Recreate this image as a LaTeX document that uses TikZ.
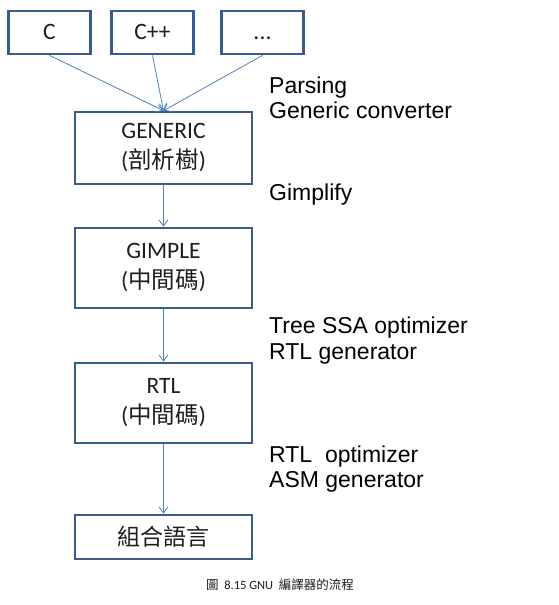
\documentclass[tikz,border=0pt]{standalone}
\usepackage{fontspec}
\setmainfont{Carlito}
\newfontfamily\cjk{Noto Sans CJK TC}
\newfontfamily\arialf{Liberation Sans}
\usetikzlibrary{arrows.meta}
\definecolor{boxblue}{RGB}{56,93,138}
\definecolor{arrowblue}{RGB}{79,129,189}
\definecolor{txtgray}{RGB}{30,30,30}
\begin{document}
\begin{tikzpicture}[x=1pt,y=-1pt,
  box/.style={draw=boxblue, line width=2.7pt, fill=white, inner sep=0pt,
    minimum width=177pt, align=center, text=txtgray,
    font=\fontsize{23.5}{30}\selectfont},
  srcbox/.style={box, minimum width=82pt, minimum height=43pt,
    text height=15pt, text depth=2pt},
  conn/.style={draw=arrowblue, line width=0.8pt, -{Straight Barb[length=6pt,width=9pt]}},
  lbl/.style={anchor=base west, inner sep=0pt, text=black,
    font=\arialf\fontsize{23}{26}\selectfont},
]
\useasboundingbox[fill=white] (0,0) rectangle (559,605);

\node[srcbox] (c) at (49.5,32.5) {C};
\node[srcbox] (cpp) at (152.5,32.5) {C++};
\node[srcbox] (etc) at (262.5,32.5) {.\kern0.3pt.\kern0.3pt.};

\node[box, minimum height=72pt] (generic) at (163.5,148) {GENERIC\\({\cjk 剖析樹})};
\node[box, minimum height=80pt] (gimple) at (163.5,268) {GIMPLE\\({\cjk 中間碼})};
\node[box, minimum height=80pt] (rtl) at (163.5,403) {RTL\\({\cjk 中間碼})};
\node[box, minimum height=44pt, font=\cjk\fontsize{23}{28}\selectfont] (asm) at (163.5,537) {組合語言};

\draw[conn] (c.south) -- (generic.north);
\draw[conn] (cpp.south) -- (generic.north);
\draw[conn] (etc.south) -- (generic.north);
\draw[conn] (generic) -- (gimple);
\draw[conn] (gimple) -- (rtl);
\draw[conn] (rtl) -- (asm);

\node[lbl] (l1) at (269,93) {Parsing};
\node[lbl] (l2) at (269,118) {Generic converter};
\node[lbl] (l3) at (269,200) {Gimplify};
\node[lbl] (l4) at (269,333) {Tree SSA optimizer};
\node[lbl] (l5) at (269,359) {RTL generator};
\node[lbl] (l6) at (269,462) {RTL\ \ optimizer};
\node[lbl] (l7) at (269,487) {ASM generator};

\node[text=txtgray, inner sep=0pt, font=\fontsize{12.5}{14}\selectfont] (cap) at (280,585)
  {{\cjk 圖}\ \ 8.15 GNU\ \ {\cjk 編譯器的流程}};
\end{tikzpicture}
\end{document}
